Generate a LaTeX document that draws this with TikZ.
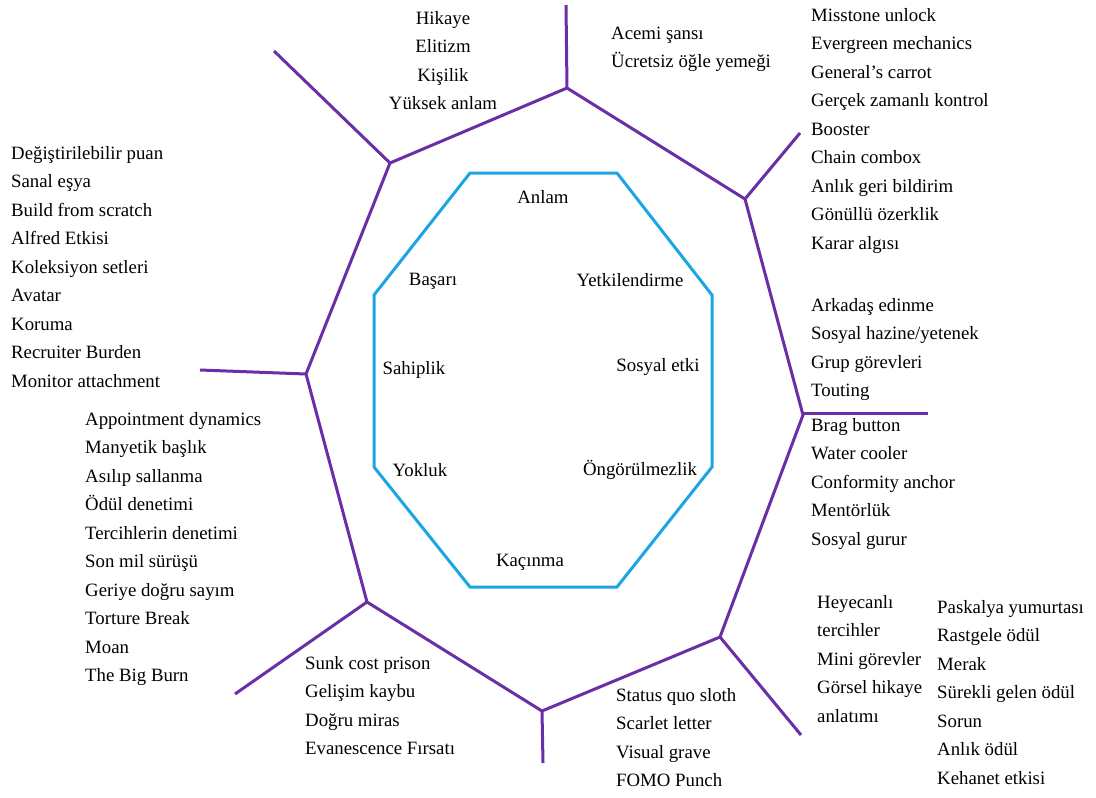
\documentclass[tikz,border=0pt]{standalone}
\usepackage{fontspec}
\setmainfont{Liberation Serif}
\begin{document}
\begin{tikzpicture}[x=1pt,y=-1pt,
  ring/.style={draw=ringpurple,line width=3pt,line join=miter},
  spoke/.style={draw=ringpurple,line width=3pt},
  core/.style={draw=corecyan,line width=3pt,line join=miter},
  lbl/.style={font=\fontsize{18.8}{28.5}\selectfont,align=left,anchor=base west,inner sep=0pt},
  clbl/.style={font=\fontsize{18.8}{28.5}\selectfont,align=center,anchor=base,inner sep=0pt}]
\definecolor{ringpurple}{HTML}{6A2EA6}
\definecolor{corecyan}{HTML}{1BA6E3}
\useasboundingbox (0,0) rectangle (1096,798);

% outer ring vertices
\coordinate (pT)  at (567,88);
\coordinate (pTR) at (745,199);
\coordinate (pR)  at (803,415);
\coordinate (pBR) at (720,637);
\coordinate (pB)  at (542,711);
\coordinate (pBL) at (367,602);
\coordinate (pL)  at (306,374);
\coordinate (pTL) at (390,163);
% outer spoke ends
\coordinate (sT)  at (566,5);
\coordinate (sTR) at (800,133);
\coordinate (sR)  at (928,413);
\coordinate (sBR) at (801,735);
\coordinate (sB)  at (543,763);
\coordinate (sBL) at (235,694);
\coordinate (sL)  at (200,370);
\coordinate (sTL) at (274,51);

\draw[ring] (pT) -- (pTR) -- (pR) -- (pBR) -- (pB) -- (pBL) -- (pL) -- (pTL) -- cycle;
\draw[spoke] (pT) -- (sT);
\draw[spoke] (pTR) -- (sTR);
\draw[spoke] (pR |- sR) -- (sR);
\draw[spoke] (pBR) -- (sBR);
\draw[spoke] (pB) -- (sB);
\draw[spoke] (pBL) -- (sBL);
\draw[spoke] (pL) -- (sL);
\draw[spoke] (pTL) -- (sTL);

% inner octagon
\coordinate (c1) at (470,173);
\coordinate (c2) at (617,173);
\coordinate (c3) at (712,295);
\coordinate (c4) at (712,467);
\coordinate (c5) at (617,587);
\coordinate (c6) at (470,587);
\coordinate (c7) at (374,467);
\coordinate (c8) at (374,295);
\draw[core] (c1) -- (c2) -- (c3) -- (c4) -- (c5) -- (c6) -- (c7) -- (c8) -- cycle;

% core drives
\node[clbl] (anlam)  at (543,203) {Anlam};
\node[clbl] (basari) at (433,285) {Başarı};
\node[clbl] (yetki)  at (630,286) {Yetkilendirme};
\node[clbl] (sahip)  at (414,374) {Sahiplik};
\node[clbl] (sosyal) at (658,371) {Sosyal etki};
\node[clbl] (yokluk) at (420,476) {Yokluk};
\node[clbl] (ongoru) at (640,475) {Öngörülmezlik};
\node[clbl] (kacin)  at (530,566) {Kaçınma};

% techniques (each block is placed by the baseline of its last line)
\node[clbl] (tAnlam) at (443,109.5) {Hikaye\\Elitizm\\Kişilik\\Yüksek anlam};
\node[lbl] (tAcemi) at (611,67.5) {Acemi şansı\\Ücretsiz öğle yemeği};
\node[lbl] (tYetki) at (811,249) {Misstone unlock\\Evergreen mechanics\\General’s carrot\\Gerçek zamanlı kontrol\\Booster\\Chain combox\\Anlık geri bildirim\\Gönüllü özerklik\\Karar algısı};
\node[lbl] (tBasari) at (11,387) {Değiştirilebilir puan\\Sanal eşya\\Build from scratch\\Alfred Etkisi\\Koleksiyon setleri\\Avatar\\Koruma\\Recruiter Burden\\Monitor attachment};
\node[lbl] (tSosyal1) at (811,396.5) {Arkadaş edinme\\Sosyal hazine/yetenek\\Grup görevleri\\Touting};
\node[lbl] (tSosyal2) at (811,545) {Brag button\\Water cooler\\Conformity anchor\\Mentörlük\\Sosyal gurur};
\node[lbl] (tYokluk) at (85,681.5) {Appointment dynamics\\Manyetik başlık\\Asılıp sallanma\\Ödül denetimi\\Tercihlerin denetimi\\Son mil sürüşü\\Geriye doğru sayım\\Torture Break\\Moan\\The Big Burn};
\node[lbl] (tKacin1) at (305,754.5) {Sunk cost prison\\Gelişim kaybu\\Doğru miras\\Evanescence Fırsatı};
\node[lbl] (tKacin2) at (616,786.5) {Status quo sloth\\Scarlet letter\\Visual grave\\FOMO Punch};
\node[lbl] (tOngoru1) at (817,722) {Heyecanlı\\tercihler\\Mini görevler\\Görsel hikaye\\anlatımı};
\node[lbl] (tOngoru2) at (937,784) {Paskalya yumurtası\\Rastgele ödül\\Merak\\Sürekli gelen ödül\\Sorun\\Anlık ödül\\Kehanet etkisi};
\end{tikzpicture}
\end{document}
